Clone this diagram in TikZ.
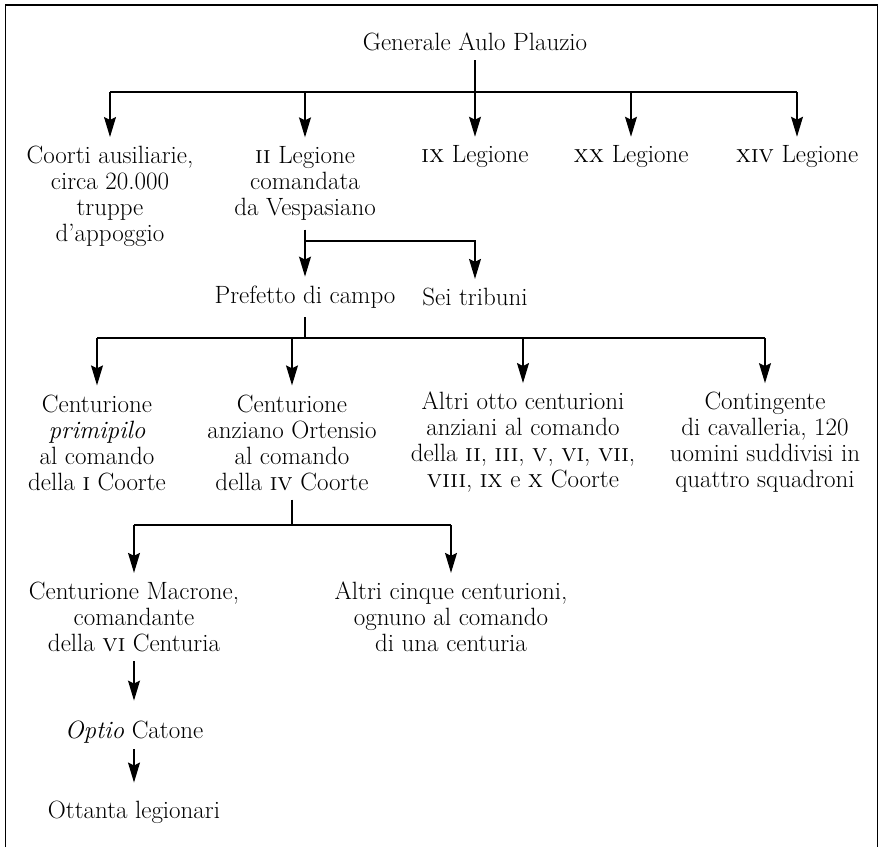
\documentclass[tikz,border=0pt]{standalone}
\usetikzlibrary{arrows.meta,calc}
\begin{document}
\begin{tikzpicture}[x=1pt,y=-1pt,
  lbl/.style={align=center, font=\fontsize{25}{26}\selectfont, inner xsep=0pt, inner ysep=9pt},
  conn/.style={line width=1.2pt},
  arr/.style={conn, -{Stealth[length=20pt,width=12pt,inset=3pt]}},
  frame/.style={line width=1.5pt}]
\useasboundingbox (0,0) rectangle (881,847);
\draw[frame] (5.5,847) -- (5.5,5) -- (877.5,5) -- (877.5,847);

\node[lbl] (root) at (475,42) {Generale Aulo Plauzio};

\node[lbl] (coorti) at (110,196.5) {Coorti ausiliarie,\\circa 20.000\\truppe\\d’appoggio};
\node[lbl] (ii) at (305,183.5) {\textsc{ii} Legione\\comandata\\da Vespasiano};
\node[lbl] (ix) at (475,157) {\textsc{ix} Legione};
\node[lbl] (xx) at (631,157) {\textsc{xx} Legione};
\node[lbl] (xiv) at (797,157) {\textsc{xiv} Legione};

\node[lbl] (pref) at (305,297) {Prefetto di campo};
\node[lbl] (sei) at (475,297) {Sei tribuni};

\node[lbl] (prim) at (97,442.5) {Centurione\\\textit{primipilo}\\al comando\\della \textsc{i} Coorte};
\node[lbl] (ort) at (292,442.5) {Centurione\\anziano Ortensio\\al comando\\della \textsc{iv} Coorte};
\node[lbl] (otto) at (523,442.5) {Altri otto centurioni\\anziani al comando\\della \textsc{ii}, \textsc{iii}, \textsc{v}, \textsc{vi}, \textsc{vii},\\\textsc{viii}, \textsc{ix} e \textsc{x} Coorte};
\node[lbl] (cont) at (765,442.5) {Contingente\\di cavalleria, 120\\uomini suddivisi in\\quattro squadroni};

\node[lbl] (macr) at (134,617) {Centurione Macrone,\\comandante\\della \textsc{vi} Centuria};
\node[lbl] (cinque) at (451,617) {Altri cinque centurioni,\\ognuno al comando\\di una centuria};

\node[lbl, inner ysep=6pt] (optio) at (134,732) {\textit{Optio} Catone};
\node[lbl, inner ysep=6pt] (ott) at (134,812) {Ottanta legionari};

% level 1
\coordinate (b1) at (475,92);
\draw[arr] (root) -- (ix);
\draw[conn] (coorti.north |- b1) -- (xiv.north |- b1);
\foreach \n in {coorti,ii,xx,xiv} \draw[arr] (\n.north |- b1) -- (\n);

% II Legione
\coordinate (b2) at (305,241);
\draw[arr] (ii) -- (pref);
\draw[arr] (b2) -| (sei);

% Prefetto
\coordinate (b3) at (305,338);
\draw[conn] (pref) -- (b3);
\draw[conn] (prim.north |- b3) -- (cont.north |- b3);
\foreach \n in {prim,ort,otto,cont} \draw[arr] (\n.north |- b3) -- (\n);

% Ortensio
\coordinate (b4) at (292,525);
\draw[conn] (ort) -- (b4);
\draw[conn] (macr.north |- b4) -- (cinque.north |- b4);
\foreach \n in {macr,cinque} \draw[arr] (\n.north |- b4) -- (\n);

% Macrone chain
\draw[arr, shorten >=14pt] (macr) -- (optio);
\draw[arr, shorten >=12pt] (optio) -- (ott);
\end{tikzpicture}
\end{document}
